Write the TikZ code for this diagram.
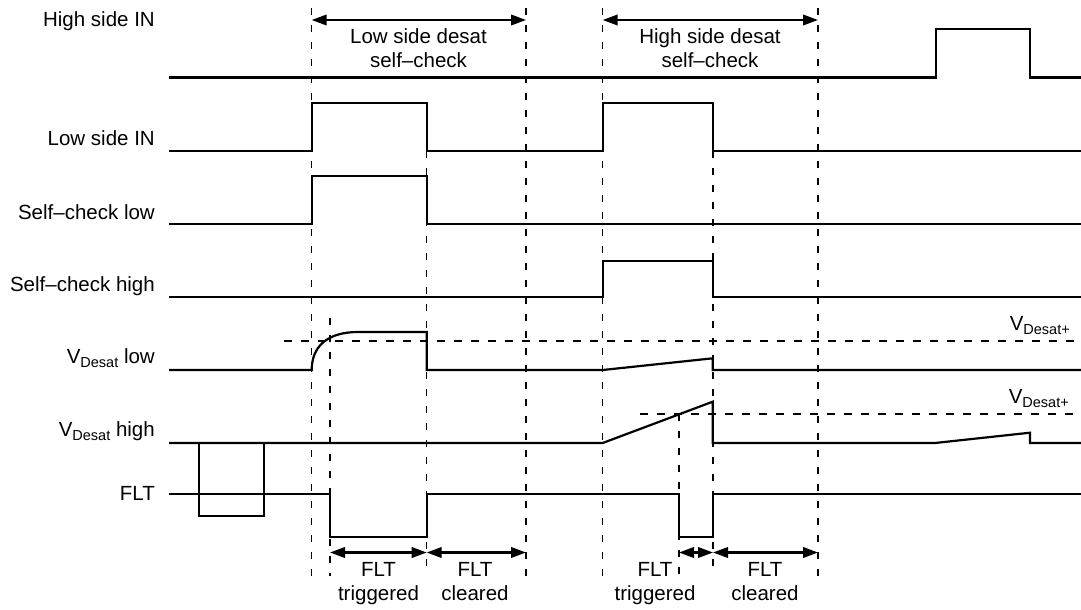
\documentclass[tikz,border=0pt]{standalone}
\usepackage{fontspec}
\setmainfont{Liberation Sans}
\usetikzlibrary{arrows.meta}
\newcommand{\vsub}[1]{V\raisebox{-4pt}{\fontsize{14.5}{14.5}\selectfont #1}}
\tikzset{
  sig/.style={line width=2.2pt, line join=miter, line cap=butt},
  guide/.style={line width=1.1pt, dash pattern=on 7pt off 10pt},
  thresh/.style={line width=1.1pt, dash pattern=on 8pt off 9pt},
  dimarrow/.style={line width=2.2pt, {Triangle[length=15pt,width=10.5pt]}-{Triangle[length=15pt,width=10.5pt]}},
  lbl/.style={font=\fontsize{20.5}{24}\selectfont, inner sep=0pt, align=center},
  side/.style={font=\fontsize{20.5}{24}\selectfont, inner sep=0pt, anchor=base east}
}
\begin{document}
\begin{tikzpicture}[x=1pt,y=-1pt]
\useasboundingbox (0,0) rectangle (1081,610);
% time marks
\coordinate (a1) at (311.7,20);  \coordinate (a3) at (526,20);
\coordinate (a4) at (602.7,20);  \coordinate (a6) at (818,20);
\coordinate (b1) at (330,552.5); \coordinate (b2) at (426.7,552.5); \coordinate (b3) at (526,552.5);
\coordinate (c1) at (679,552.5); \coordinate (c2) at (713,552.5);   \coordinate (c3) at (818,552.5);

% guide lines
\draw[guide] (311.7,8) -- (311.7,576);
\draw[guide] (526,8) -- (526,576);
\draw[guide] (602.7,8) -- (602.7,576);
\draw[guide] (818,8) -- (818,576);
\draw[guide] (426.7,151) -- (426.7,576);
\draw[guide] (713,151) -- (713,576);
\draw[guide] (330,318) -- (330,576);
\draw[guide] (679,414) -- (679,576);
\draw[thresh] (284,341) -- (1081,341);
\draw[thresh] (640,414) -- (1081,414);

% signals
\draw[sig] (169,77.5) -- (935.7,77.5) -- (935.7,29) -- (1030,29) -- (1030,77.5) -- (1081,77.5);
\draw[sig] (169,151) -- (311.7,151) -- (311.7,103) -- (426.7,103) -- (426.7,151) -- (602.7,151) -- (602.7,103) -- (713,103) -- (713,151) -- (1081,151);
\draw[sig] (169,224) -- (311.7,224) -- (311.7,176) -- (426.7,176) -- (426.7,224) -- (1081,224);
\draw[sig] (169,297) -- (602.7,297) -- (602.7,261) -- (713,261) -- (713,297) -- (1081,297);
\draw[sig] (169,370) -- (311.7,370) .. controls (311.7,346) and (328,332) .. (358,332) -- (426.7,332) -- (426.7,370) -- (602.7,370) -- (712.7,358.3) -- (712.7,370) -- (1081,370);
\draw[sig] (169,443) -- (602.7,443) -- (712.7,401.7) -- (712.7,443) -- (935,443) -- (1030,432.7) -- (1030,443) -- (1081,443);
\draw[sig] (199.3,443) -- (199.3,516) -- (263.7,516) -- (263.7,443);
\draw[sig] (169,494) -- (330,494) -- (330,537) -- (426.7,537) -- (426.7,494) -- (679,494) -- (679,537) -- (713,537) -- (713,494) -- (1081,494);

% dimension arrows
\draw[dimarrow] (a1) -- (a3);
\draw[dimarrow] (a4) -- (a6);
\draw[dimarrow] (b1) -- (b2);
\draw[dimarrow] (b2) -- (b3);
\draw[dimarrow] (c1) -- (c2);
\draw[dimarrow] (c2) -- (c3);

% labels
\node[lbl, anchor=north] (t1) at (418.5,28.5) {Low side desat\\self--check};
\node[lbl, anchor=north] (t2) at (710,28.5) {High side desat\\self--check};
\node[lbl, anchor=north] (f1) at (378.5,562.5) {FLT\\triggered};
\node[lbl, anchor=north] (f2) at (475,562.5) {FLT\\cleared};
\node[lbl, anchor=north] (f3) at (655,562.5) {FLT\\triggered};
\node[lbl, anchor=north] (f4) at (765,562.5) {FLT\\cleared};

\node[side] (l1) at (155,27) {High side IN};
\node[side] (l2) at (155,145) {Low side IN};
\node[side] (l3) at (155,219) {Self--check low};
\node[side] (l4) at (155,291) {Self--check high};
\node[side] (l5) at (155,363) {\vsub{Desat} low};
\node[side] (l6) at (155,436) {\vsub{Desat} high};
\node[side] (l7) at (155,500) {FLT};
\node[side] (v1) at (1070,330) {\vsub{Desat+}};
\node[side] (v2) at (1069,403) {\vsub{Desat+}};
\end{tikzpicture}
\end{document}
